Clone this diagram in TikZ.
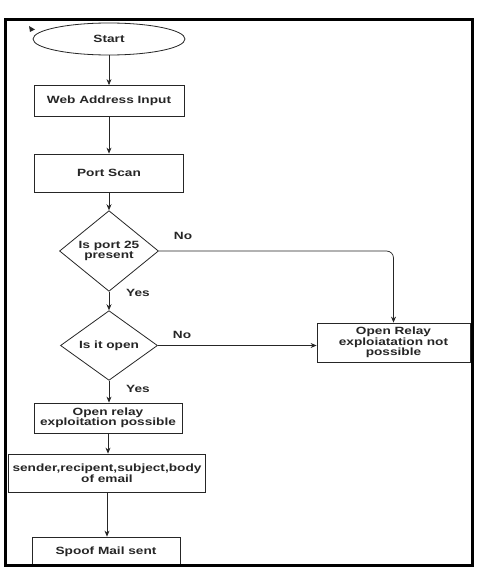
\documentclass[tikz,border=0pt]{standalone}
\usepackage{fontspec}
\setmainfont[FakeStretch=1.3]{Liberation Sans}
\usetikzlibrary{shapes.geometric,arrows.meta}
\begin{document}
\begin{tikzpicture}[x=1pt,y=-1pt,
  every node/.style={font=\bfseries\fontsize{10.5}{10.5}\selectfont, align=center, text=black!85},
  box/.style={draw=black!85, line width=0.8pt, fill=white, inner sep=0pt},
  dec/.style={diamond, draw=black!85, line width=0.8pt, fill=white, inner sep=0pt, aspect=1},
  arr/.style={draw=black!85, line width=0.7pt, -{Stealth[length=6pt,width=5pt]}},
  lbl/.style={inner sep=0pt}]
\useasboundingbox (0,0) rectangle (477,567);
\fill[white] (0,0) rectangle (477,567);
\node[box, ellipse, minimum width=152, minimum height=32] (start) at (109,39) {Start};
\node[box, minimum width=150, minimum height=31] (web) at (109,101) {Web Address Input};
\node[box, minimum width=149, minimum height=38] (port) at (109,173) {Port Scan};
\node[dec, minimum width=99, minimum height=58] (d1) at (109,251) {Is port 25\\present};
\node[dec, minimum width=97, minimum height=57] (d2) at (109,345.5) {Is it open};
\node[box, minimum width=153, minimum height=39] (notposs) at (393.5,342.5) {Open Relay\\exploiatation not\\possible};
\node[box, minimum width=148, minimum height=30] (poss) at (108,418) {Open relay\\exploitation possible};
\node[box, minimum width=197, minimum height=38] (sender) at (107,473) {sender,recipent,subject,body\\of email};
\node[box, minimum width=148, minimum height=29] (spoof) at (106,551.5) {Spoof Mail sent};
\node[lbl] (no1) at (183,236) {No};
\node[lbl] (yes1) at (138,293) {Yes};
\node[lbl] (no2) at (182,335) {No};
\node[lbl] (yes2) at (138,389) {Yes};
\draw[arr] (start) -- (web);
\draw[arr] (web) -- (port);
\draw[arr] (port) -- (d1);
\draw[arr] (d1) -- (d2);
\draw[arr] (d2) -- (d2 |- poss.north);
\draw[arr] (poss) -- (poss |- sender.north);
\draw[arr] (sender) -- (sender |- spoof.north);
\draw[arr, rounded corners=7pt] (d1.east) -- (d1.east -| notposs.north) -- (notposs.north);
\draw[arr] (d2.east) -- (d2.east -| notposs.west);
\fill[black!85] (29,26) -- (35,29.5) -- (30,32) -- cycle;
\draw[line width=3pt] (5.5,20) rectangle (472,565);
\end{tikzpicture}
\end{document}
